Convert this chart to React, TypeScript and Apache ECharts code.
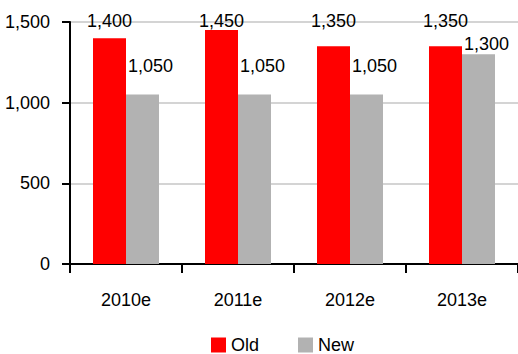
import React, { useEffect, useRef } from "react";
import * as echarts from "echarts";

const categories = ["2010e", "2011e", "2012e", "2013e"];
const oldValues = [1400, 1450, 1350, 1350];
const newValues = [1050, 1050, 1050, 1300];
const yTicks = [0, 500, 1000, 1500];

// label nudges (pixels) so that labels sit like in the reference
const oldLabelOffsets = [[0, -3], [0, 5], [0, -11], [0, -11]];
const newLabelOffsets = [[8, -15], [8, -15], [8, -15], [8, 4]];

const FONT = "'Liberation Sans', Arial, sans-serif";
const FS = 18;

export default function App() {
  const ref = useRef<HTMLDivElement>(null);
  useEffect(() => {
    if (!ref.current) return;
    const chart = echarts.init(ref.current, null, { renderer: "svg" });
    const fmt = (v: number) => v.toLocaleString("en-US");
    const mk = (vals: number[], offs: number[][]) =>
      vals.map((v, i) => ({ value: v, label: { offset: offs[i] } }));
    chart.setOption({
      animation: false,
      textStyle: { fontFamily: FONT },
      grid: { left: 70, top: 22, height: 242, width: 450 },
      legend: {
        left: 206,
        top: 331,
        itemWidth: 15,
        itemHeight: 15,
        itemGap: 39,
        icon: "rect",
        textStyle: { fontSize: FS, color: "#000", fontFamily: FONT },
        data: ["Old", "New"],
      },
      xAxis: {
        type: "category",
        data: categories,
        axisLine: { lineStyle: { color: "#000", width: 2 } },
        axisTick: { show: true, length: 9, lineStyle: { color: "#000", width: 2 } },
        axisLabel: { color: "#000", fontSize: FS, margin: 27, fontFamily: FONT },
      },
      yAxis: {
        type: "value",
        min: yTicks[0],
        max: yTicks[yTicks.length - 1],
        interval: 500,
        axisLine: { show: true, lineStyle: { color: "#000", width: 2 } },
        axisTick: { show: true, length: 8, lineStyle: { color: "#000", width: 2 } },
        splitLine: { show: true, lineStyle: { color: "#d4d4d4", width: 2 } },
        axisLabel: {
          color: "#000",
          fontSize: FS,
          margin: 20,
          fontFamily: FONT,
          formatter: (v: number) => fmt(v),
        },
      },
      series: [
        {
          name: "Old",
          type: "bar",
          data: mk(oldValues, oldLabelOffsets),
          barWidth: 33,
          barGap: "0%",
          itemStyle: { color: "#ff0000" },
          label: {
            show: true,
            position: "top",
            distance: 5,
            color: "#000",
            fontSize: FS,
            fontFamily: FONT,
            formatter: (p: any) => fmt(p.value),
          },
        },
        {
          name: "New",
          type: "bar",
          data: mk(newValues, newLabelOffsets),
          barWidth: 33,
          itemStyle: { color: "#b2b2b2" },
          label: {
            show: true,
            position: "top",
            distance: 5,
            color: "#000",
            fontSize: FS,
            fontFamily: FONT,
            formatter: (p: any) => fmt(p.value),
          },
        },
      ],
    });
    return () => chart.dispose();
  }, []);
  return (
    <div
      ref={ref}
      style={{ position: "fixed", left: 0, top: 0, width: 518, height: 354, background: "#fff" }}
    />
  );
}
